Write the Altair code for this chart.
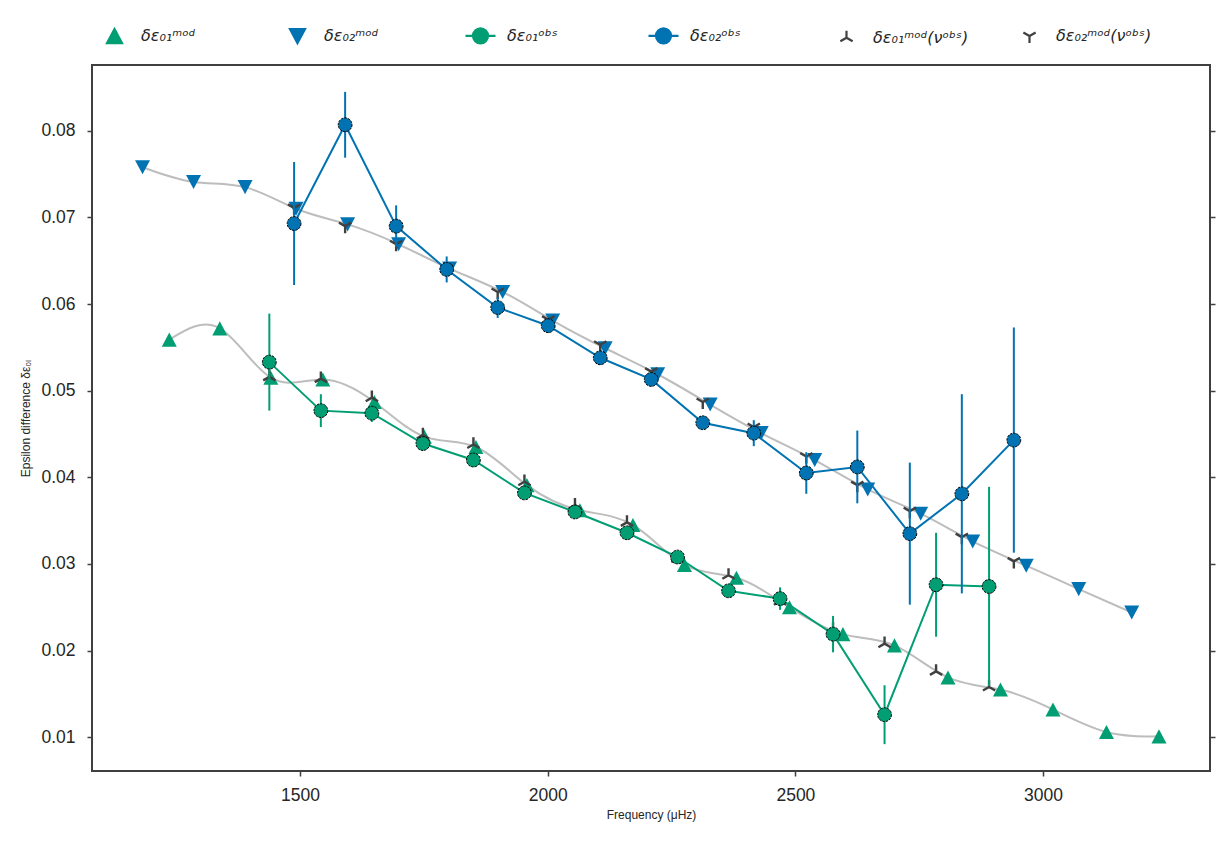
import altair as alt
import pandas as pd

GREEN = "#029E73"
BLUE = "#0173B2"
CURVE = "#BDBDBD"
DARK = "#404040"
TEXT = "#262626"

# Model epsilon differences (l = 1 and l = 2) on the model frequencies
freq01_mod = [1236, 1338, 1441, 1546, 1650, 1751, 1855, 1958, 2065, 2172,
              2276, 2381, 2488, 2596, 2700, 2808, 2914, 3020, 3128, 3234]
eps01_mod = [0.0559, 0.0572, 0.0515, 0.0513, 0.0487, 0.0447, 0.0435, 0.0391, 0.0362, 0.0345,
             0.0299, 0.0284, 0.0250, 0.0219, 0.0206, 0.0169, 0.0155, 0.0132, 0.0106, 0.0101]
freq02_mod = [1182, 1285, 1389, 1492, 1596, 1699, 1802, 1909, 2010, 2116,
              2222, 2328, 2431, 2539, 2646, 2753, 2858, 2966, 3072, 3179]
eps02_mod = [0.0758, 0.0741, 0.0735, 0.0710, 0.0692, 0.0669, 0.0641, 0.0614, 0.0581, 0.0549,
             0.0519, 0.0484, 0.0451, 0.0420, 0.0386, 0.0358, 0.0326, 0.0298, 0.0271, 0.0244]

# Observed epsilon differences with their uncertainties
freq01_obs = [1438, 1542, 1645, 1748, 1850, 1953, 2055, 2160, 2262, 2365,
              2469, 2576, 2680, 2784, 2891]
eps01_obs = [0.0533, 0.0477, 0.0474, 0.0439, 0.0420, 0.0382, 0.0360, 0.0336, 0.0308, 0.0269,
             0.0260, 0.0219, 0.0126, 0.0276, 0.0274]
err01_obs = [0.0056, 0.0019, 0.0010, 0.0008, 0.0005, 0.0007, 0.0006, 0.0006, 0.0005, 0.0006,
             0.0013, 0.0021, 0.0034, 0.0060, 0.0115]
freq02_obs = [1488, 1591, 1694, 1796, 1899, 2001, 2106, 2209, 2313, 2416,
              2522, 2625, 2731, 2836, 2941]
eps02_obs = [0.0693, 0.0807, 0.0690, 0.0640, 0.0596, 0.0575, 0.0538, 0.0513, 0.0463, 0.0451,
             0.0405, 0.0412, 0.0335, 0.0381, 0.0443]
err02_obs = [0.0071, 0.0038, 0.0024, 0.0015, 0.0012, 0.0008, 0.0008, 0.0008, 0.0005, 0.0015,
             0.0024, 0.0042, 0.0082, 0.0115, 0.0130]

# Model epsilon differences evaluated at the observed frequencies
eps01_mod_at_obs = [0.0516, 0.0514, 0.0492, 0.0449, 0.0438, 0.0395, 0.0368, 0.0348, 0.0306, 0.0287,
                    0.0257, 0.0225, 0.0208, 0.0176, 0.0158]
eps02_mod_at_obs = [0.0711, 0.0690, 0.0669, 0.0641, 0.0614, 0.0582, 0.0553, 0.0522, 0.0487, 0.0458,
                    0.0424, 0.0391, 0.0361, 0.0331, 0.0303]

SERIES = ["δε₀₁ᵐᵒᵈ", "δε₀₂ᵐᵒᵈ", "δε₀₁ᵒᵇˢ", "δε₀₂ᵒᵇˢ", "δε₀₁ᵐᵒᵈ(νᵒᵇˢ)", "δε₀₂ᵐᵒᵈ(νᵒᵇˢ)"]
Y_TICKS = [0.01, 0.02, 0.03, 0.04, 0.05, 0.06, 0.07, 0.08]
X_TICKS = [1500, 2000, 2500, 3000]

# Symbol paths in the unit box; markers are drawn at half the box
TRI_UP = "M0,-0.47L0.5,0.47L-0.5,0.47Z"
TRI_DOWN = "M0,0.47L0.5,-0.47L-0.5,-0.47Z"
LINE_DOT = "M-1,0L-0.5,0M0.5,0L1,0M-0.5,0A0.5,0.5 0 1,1 0.5,0A0.5,0.5 0 1,1 -0.5,0Z"
Y_UP = "M0,0L0,-0.47M0,0L-0.41,0.235M0,0L0.41,0.235"
Y_DOWN = "M0,0L0,0.47M0,0L-0.41,-0.235M0,0L0.41,-0.235"
SHAPES = [TRI_UP, TRI_DOWN, LINE_DOT, LINE_DOT, Y_UP, Y_DOWN]
FILLS = [GREEN, BLUE, GREEN, BLUE, DARK, DARK]

curves = pd.concat([
    pd.DataFrame({"freq": freq01_mod, "eps": eps01_mod, "degree": "l1"}),
    pd.DataFrame({"freq": freq02_mod, "eps": eps02_mod, "degree": "l2"}),
])

markers = pd.concat([
    pd.DataFrame({"freq": freq01_mod, "eps": eps01_mod, "series": SERIES[0], "kind": "tri"}),
    pd.DataFrame({"freq": freq02_mod, "eps": eps02_mod, "series": SERIES[1], "kind": "tri"}),
    pd.DataFrame({"freq": freq01_obs, "eps": eps01_mod_at_obs, "series": SERIES[4], "kind": "cross"}),
    pd.DataFrame({"freq": freq02_obs, "eps": eps02_mod_at_obs, "series": SERIES[5], "kind": "cross"}),
], ignore_index=True)


def obs_frame(freq, eps, err):
    df = pd.DataFrame({"freq": freq, "eps": eps, "err": err})
    df["lo"] = df["eps"] - df["err"]
    df["hi"] = df["eps"] + df["err"]
    return df


obs01 = obs_frame(freq01_obs, eps01_obs, err01_obs)
obs02 = obs_frame(freq02_obs, eps02_obs, err02_obs)

x_enc = alt.X(
    "freq:Q",
    scale=alt.Scale(domain=[1080, 3337], nice=False, zero=False),
    axis=alt.Axis(values=X_TICKS, format="d", title="Frequency (μHz)",
                  labelPadding=10, titlePadding=6),
)
y_axis = alt.Axis(values=Y_TICKS, format=".2f", title="Epsilon difference δε₀ₗ",
                  labelPadding=12, titlePadding=8)
y_scale = alt.Scale(domain=[0.0061, 0.0876], nice=False, zero=False)
y_enc = alt.Y("eps:Q", scale=y_scale, axis=y_axis)

legend = alt.Legend(
    title=None, orient="none", legendX=6, legendY=-46, direction="horizontal",
    columns=6, gridAlign="all", columnPadding=41, symbolSize=900, symbolStrokeWidth=2.2,
    labelFont="DejaVu Sans", labelFontSize=16, labelFontStyle="italic", labelOffset=10,
    labelColor=TEXT, labelLimit=300, padding=0,
)

curve_layer = alt.Chart(curves).mark_line(
    interpolate="natural", color=CURVE, strokeWidth=2
).encode(x=x_enc, y=y_enc, detail="degree:N")

marker_layer = alt.Chart(markers).mark_point(filled=True, size=900, opacity=1).encode(
    x=x_enc,
    y=y_enc,
    shape=alt.Shape("series:N", scale=alt.Scale(domain=SERIES, range=SHAPES), legend=legend),
    fill=alt.Fill("series:N", scale=alt.Scale(domain=SERIES, range=FILLS), legend=legend),
    stroke=alt.Stroke("series:N", scale=alt.Scale(domain=SERIES, range=FILLS), legend=legend),
    strokeWidth=alt.condition("datum.kind === 'cross'", alt.value(2.4), alt.value(0)),
)


def obs_layers(df, color):
    bars = alt.Chart(df).mark_rule(color=color, strokeWidth=2).encode(
        x=x_enc, y=alt.Y("lo:Q", scale=y_scale, axis=y_axis), y2="hi:Q"
    )
    line = alt.Chart(df).mark_line(color=color, strokeWidth=2).encode(x=x_enc, y=y_enc)
    dots = alt.Chart(df).mark_point(
        shape="circle", filled=True, size=190, opacity=1, fill=color,
        stroke="black", strokeWidth=1, strokeDash=[2.5, 1]
    ).encode(x=x_enc, y=y_enc)
    return [bars, line, dots]


main = alt.layer(
    curve_layer,
    marker_layer,
    *obs_layers(obs01, GREEN),
    *obs_layers(obs02, BLUE),
)

# tick marks along the right-hand side of the frame
right_ticks = alt.Chart(obs02).mark_point(opacity=0).encode(
    x=x_enc,
    y=alt.Y("eps:Q", scale=y_scale,
            axis=alt.Axis(orient="right", values=Y_TICKS, labels=False, title=None)),
)

chart = alt.layer(main, right_ticks).resolve_scale(
    y="independent"
).properties(
    width=1118,
    height=706,
    autosize=alt.AutoSizeParams(type="none"),
    padding={"left": 92, "top": 65, "right": 19, "bottom": 74},
).configure_view(
    stroke=DARK, strokeWidth=2
).configure_axis(
    domain=False, grid=False, tickColor=DARK, tickWidth=1.5, tickSize=5,
    labelFont="Liberation Sans", labelFontSize=17.5, labelColor=TEXT,
    titleFont="Liberation Sans", titleFontSize=12, titleColor=TEXT, titleFontWeight="normal",
)

chart.save("out.html", embed_options={"renderer": "svg", "actions": False})
